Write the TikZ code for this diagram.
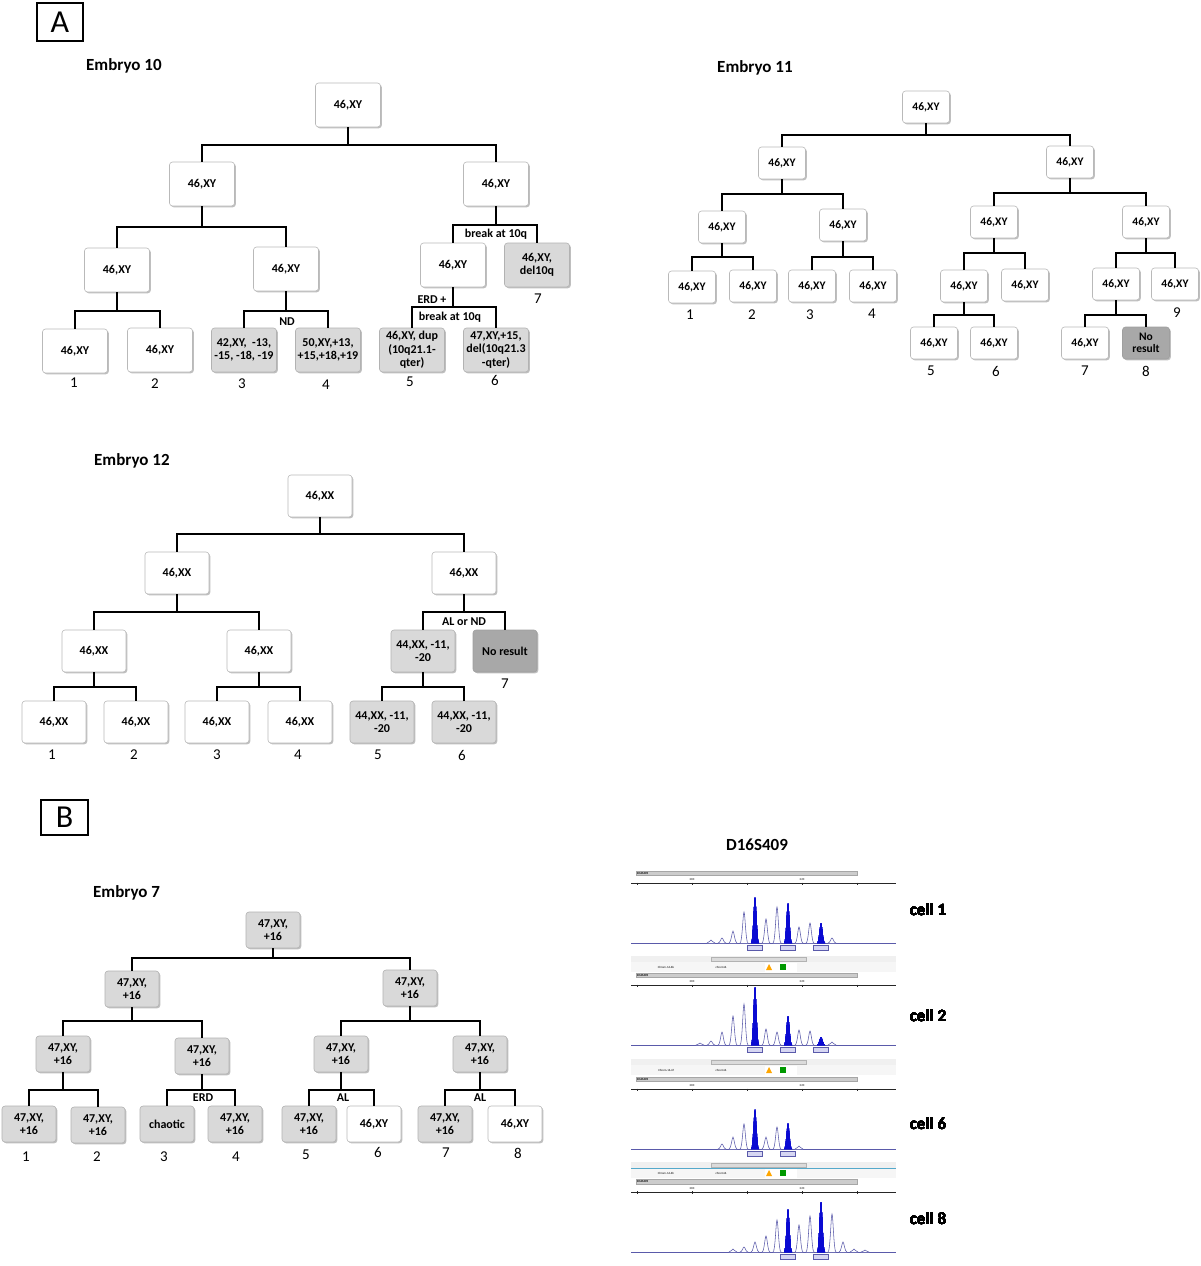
\documentclass[tikz,border=0pt]{standalone}
\usepackage{fontspec}
\setmainfont{Carlito}
\usetikzlibrary{shadows}

\definecolor{trace}{HTML}{5A5AAA}
\definecolor{peakblue}{HTML}{0A0AD2}
\definecolor{lblfill}{HTML}{D6D6F2}

\tikzset{
  box/.style={rounded corners=3pt, draw=gray!55, line width=0.6pt, fill=white, align=center, inner sep=1pt,
    font=\bfseries\fontsize{12}{13.5}\selectfont,
    drop shadow={shadow xshift=1.3pt, shadow yshift=-1.3pt, opacity=0.25, fill=black}},
  lite/.style={fill=gray!30, draw=gray!60},
  dark/.style={fill=gray!68, draw=gray!75},
  s10/.style={box, minimum width=65pt, minimum height=44pt},
  s11/.style={box, minimum width=47pt, minimum height=32pt, font=\bfseries\fontsize{11.5}{12.5}\selectfont},
  s12/.style={box, minimum width=64pt, minimum height=42pt},
  s7/.style={box, minimum width=54pt, minimum height=36pt, font=\bfseries\fontsize{12}{13}\selectfont},
  link/.style={line width=1.7pt},
  num/.style={font=\fontsize{15}{16}\selectfont, inner sep=0pt},
  tag/.style={font=\bfseries\fontsize{12}{13}\selectfont, inner sep=0pt},
  title/.style={font=\bfseries\fontsize{17}{19}\selectfont, anchor=west, inner sep=0pt},
  tiny/.style={font=\fontsize{3}{3.5}\selectfont, inner sep=0pt},
  panel/.style={draw, line width=2.2pt, font=\fontsize{32}{34}\selectfont, inner sep=0pt},
}

% parent, left child, right child, level of the bar
\newcommand\forkbar[4]{%
  \draw[link] (#1.south) -- (#1.south |- 0,#4);
  \draw[link] (#2.north) -- (#2.north |- 0,#4) -- (#3.north |- 0,#4) -- (#3.north);
}

% peaks: x, top, baseline
\newcommand\hpk[3]{\draw[trace, line width=0.55pt, fill=white] ({#1-4},#3) .. controls ({#1-1.8},#3) and ({#1-1},#2) .. (#1,#2) .. controls ({#1+1},#2) and ({#1+1.8},#3) .. ({#1+4},#3);}
\newcommand\fpk[3]{\fill[peakblue] ({#1-4},#3) .. controls ({#1-2},#3) and ({#1-1.2},#2) .. (#1,#2) .. controls ({#1+1.2},#2) and ({#1+2},#3) .. ({#1+4},#3) -- cycle;
  \draw[trace, fill=lblfill, line width=0.5pt] ({#1-7.5},{#3+2}) rectangle ({#1+7.5},{#3+7});}

% marker bar and size axis
\newcommand\ephead[1]{%
  \draw[gray!70, fill=gray!40, line width=0.4pt] (636,#1) rectangle (857,{#1+4.5});
  \node[tiny, anchor=west, font=\bfseries\fontsize{3}{3.5}\selectfont] at (637,{#1+2.3}) {D16S409};
  \draw[gray!30!black, line width=0.4pt] (631,{#1+12.5}) -- (896,{#1+12.5});
  \foreach \t in {637,692,747,802,857} \draw[gray!30!black, line width=0.4pt] (\t,{#1+11.5}) -- (\t,{#1+14});
  \node[tiny] at (692,{#1+9}) {200};
  \node[tiny] at (802,{#1+9}) {220};
}

% scroll band and sample row
\newcommand\eprow[2]{%
  \fill[gray!12] (631,#1) rectangle (896,{#1+6});
  \draw[gray!60, fill=gray!28, line width=0.4pt] (711,{#1+0.8}) rectangle (806,{#1+5.2});
  \fill[gray!7] (631,{#1+6}) rectangle (896,{#1+16});
  \fill[white] (765,{#1+6.5}) rectangle (797,{#1+15.5});
  \fill[orange!70!yellow] (766,{#1+14}) -- (772,{#1+14}) -- (769,{#1+8}) -- cycle;
  \fill[green!60!black] (780,{#1+8}) rectangle (786,{#1+14});
  \node[tiny] at (666,{#1+11}) {#2};
  \node[tiny] at (721,{#1+11}) {chrom16};
}

\begin{document}
\begin{tikzpicture}[x=1pt, y=-1pt]

\fill[white] (0,0) rectangle (1200,1266);
\useasboundingbox (0,0) rectangle (1200,1266);

\node[panel, minimum width=46pt, minimum height=38pt] (pa) at (60,22) {A};
\node[panel, minimum width=47pt, minimum height=35pt] (pb) at (64.5,817.5) {B};

% Embryo 10
\node[title] (t10) at (86,66) {Embryo 10};
\node[s10] (e10a) at (348,105) {46,XY};
\node[s10] (e10b) at (202,184) {46,XY};
\node[s10] (e10c) at (496,184) {46,XY};
\node[s10] (e10d) at (117,270) {46,XY};
\node[s10] (e10e) at (286,269) {46,XY};
\node[s10] (e10f) at (453,265) {46,XY};
\node[s10, lite] (e10g) at (537,265) {46,XY,\\del10q};
\node[s10] (e10h) at (75,351) {46,XY};
\node[s10] (e10i) at (160,350) {46,XY};
\node[s10, lite] (e10j) at (244,350) {42,XY,\ \ -13,\\-15, -18, -19};
\node[s10, lite] (e10k) at (328,350) {50,XY,+13,\\+15,+18,+19};
\node[s10, lite] (e10l) at (412,350) {46,XY, dup\\(10q21.1-\\qter)};
\node[s10, lite] (e10m) at (496,350) {47,XY,+15,\\del(10q21.3\\-qter)};

\forkbar{e10a}{e10b}{e10c}{145}
\forkbar{e10b}{e10d}{e10e}{227}
\forkbar{e10c}{e10f}{e10g}{225}
\forkbar{e10d}{e10h}{e10i}{311}
\forkbar{e10e}{e10j}{e10k}{311}
\forkbar{e10f}{e10l}{e10m}{307}

\node[tag] (g10a) at (496,234) {break at 10q};
\node[tag] (g10b) at (287,322) {ND};
\node[tag] (g10c) at (432,300) {ERD +};
\node[tag] (g10d) at (450,317) {break at 10q};

\node[num] (n10a) at (74,383) {1};
\node[num] (n10b) at (155,384) {2};
\node[num] (n10c) at (242,384) {3};
\node[num] (n10d) at (326,385) {4};
\node[num] (n10e) at (410,382) {5};
\node[num] (n10f) at (495,380) {6};
\node[num] (n10g) at (538,299) {7};

% Embryo 11
\node[title] (t11) at (717,68) {Embryo 11};
\node[s11] (e11a) at (926,107) {46,XY};
\node[s11] (e11b) at (782,163) {46,XY};
\node[s11] (e11c) at (1070,162) {46,XY};
\node[s11] (e11d) at (722,227) {46,XY};
\node[s11] (e11e) at (843,225) {46,XY};
\node[s11] (e11f) at (994,222) {46,XY};
\node[s11] (e11g) at (1146,222) {46,XY};
\node[s11] (e11h) at (692,287) {46,XY};
\node[s11] (e11i) at (753,286) {46,XY};
\node[s11] (e11j) at (812,286) {46,XY};
\node[s11] (e11k) at (873,286) {46,XY};
\node[s11] (e11l) at (964,286) {46,XY};
\node[s11] (e11m) at (1025,285) {46,XY};
\node[s11] (e11n) at (1116,284) {46,XY};
\node[s11] (e11o) at (1175,284) {46,XY};
\node[s11] (e11p) at (934,343) {46,XY};
\node[s11] (e11q) at (994,343) {46,XY};
\node[s11] (e11r) at (1085,343) {46,XY};
\node[s11, dark] (e11s) at (1146,343) {No\\result};

\forkbar{e11a}{e11b}{e11c}{135}
\forkbar{e11b}{e11d}{e11e}{194}
\forkbar{e11c}{e11f}{e11g}{193}
\forkbar{e11d}{e11h}{e11i}{257}
\forkbar{e11e}{e11j}{e11k}{257}
\forkbar{e11f}{e11l}{e11m}{253}
\forkbar{e11g}{e11n}{e11o}{253}
\forkbar{e11l}{e11p}{e11q}{315}
\forkbar{e11n}{e11r}{e11s}{315}

\node[num] (n11a) at (690,315) {1};
\node[num] (n11b) at (752,315) {2};
\node[num] (n11c) at (810,315) {3};
\node[num] (n11d) at (872,314) {4};
\node[num] (n11e) at (931,371) {5};
\node[num] (n11f) at (996,371) {6};
\node[num] (n11g) at (1085,371) {7};
\node[num] (n11h) at (1146,371) {8};
\node[num] (n11i) at (1177,313) {9};

% Embryo 12
\node[title] (t12) at (94,461) {Embryo 12};
\node[s12] (e12a) at (320,496) {46,XX};
\node[s12] (e12b) at (177,573) {46,XX};
\node[s12] (e12c) at (464,573) {46,XX};
\node[s12] (e12d) at (94,651) {46,XX};
\node[s12] (e12e) at (259,651) {46,XX};
\node[s12, lite] (e12f) at (423,651) {44,XX, -11,\\-20};
\node[s12, dark] (e12g) at (505,651) {No result};
\node[s12] (e12h) at (54,722) {46,XX};
\node[s12] (e12i) at (136,722) {46,XX};
\node[s12] (e12j) at (217,722) {46,XX};
\node[s12] (e12k) at (300,722) {46,XX};
\node[s12, lite] (e12l) at (382,722) {44,XX, -11,\\-20};
\node[s12, lite] (e12m) at (464,722) {44,XX, -11,\\-20};

\forkbar{e12a}{e12b}{e12c}{534}
\forkbar{e12b}{e12d}{e12e}{612}
\forkbar{e12c}{e12f}{e12g}{612}
\forkbar{e12d}{e12h}{e12i}{687}
\forkbar{e12e}{e12j}{e12k}{687}
\forkbar{e12f}{e12l}{e12m}{687}

\node[tag] (g12a) at (464,622) {AL or ND};

\node[num] (n12a) at (52,755) {1};
\node[num] (n12b) at (134,755) {2};
\node[num] (n12c) at (217,755) {3};
\node[num] (n12d) at (298,755) {4};
\node[num] (n12e) at (378,755) {5};
\node[num] (n12f) at (462,755) {6};
\node[num] (n12g) at (505,684) {7};

% Embryo 7
\node[title] (t7) at (93,893) {Embryo 7};
\node[s7, lite] (e7a) at (273,930) {47,XY,\\+16};
\node[s7, lite] (e7b) at (132,989) {47,XY,\\+16};
\node[s7, lite] (e7c) at (410,988) {47,XY,\\+16};
\node[s7, lite] (e7d) at (63,1054) {47,XY,\\+16};
\node[s7, lite] (e7e) at (202,1056) {47,XY,\\+16};
\node[s7, lite] (e7f) at (341,1054) {47,XY,\\+16};
\node[s7, lite] (e7g) at (480,1054) {47,XY,\\+16};
\node[s7, lite] (e7h) at (29,1124) {47,XY,\\+16};
\node[s7, lite] (e7i) at (98,1125) {47,XY,\\+16};
\node[s7, lite] (e7j) at (167,1124) {chaotic};
\node[s7, lite] (e7k) at (235,1124) {47,XY,\\+16};
\node[s7, lite] (e7l) at (309,1124) {47,XY,\\+16};
\node[s7] (e7m) at (374,1124) {46,XY};
\node[s7, lite] (e7n) at (445,1124) {47,XY,\\+16};
\node[s7] (e7o) at (515,1124) {46,XY};

\forkbar{e7a}{e7b}{e7c}{958}
\forkbar{e7b}{e7d}{e7e}{1021}
\forkbar{e7c}{e7f}{e7g}{1021}
\forkbar{e7d}{e7h}{e7i}{1090}
\forkbar{e7e}{e7j}{e7k}{1090}
\forkbar{e7f}{e7l}{e7m}{1090}
\forkbar{e7g}{e7n}{e7o}{1090}

\node[tag] (g7a) at (203,1098) {ERD};
\node[tag] (g7b) at (343,1098) {AL};
\node[tag] (g7c) at (480,1098) {AL};

\node[num] (n7a) at (26,1157) {1};
\node[num] (n7b) at (97,1157) {2};
\node[num] (n7c) at (164,1157) {3};
\node[num] (n7d) at (236,1157) {4};
\node[num] (n7e) at (306,1155) {5};
\node[num] (n7f) at (378,1152) {6};
\node[num] (n7g) at (446,1153) {7};
\node[num] (n7h) at (518,1153) {8};

% D16S409 traces
\node[title, anchor=center] (mk) at (757,845) {D16S409};

\ephead{871}
\draw[trace, line width=0.7pt] (631,943) -- (896,943);
\foreach \x/\y in {711/940,722/938,733/931,744/912,766/919,777/907,799/927,810/923,832/938} \hpk{\x}{\y}{943}
\foreach \x/\y in {755/897,788/903,821/923} \fpk{\x}{\y}{943}
\node[title, anchor=center] (cl1) at (928,910) {cell 1};

\eprow{956}{Chrom-16-6b}

\ephead{973}
\draw[trace, line width=0.7pt] (631,1045) -- (896,1045);
\foreach \x/\y in {700/1043,711/1041,722/1032,733/1016,744/1004,766/1029,777/1032,799/1030,810/1031,832/1042} \hpk{\x}{\y}{1045}
\foreach \x/\y in {755/987,788/1016,821/1037} \fpk{\x}{\y}{1045}
\node[title, anchor=center] (cl2) at (928,1016) {cell 2};

\eprow{1059}{Chrom-16-6f}

\ephead{1077}
\draw[trace, line width=0.7pt] (631,1149) -- (896,1149);
\foreach \x/\y in {722/1144,733/1137,744/1124,766/1137,777/1127,799/1146} \hpk{\x}{\y}{1149}
\foreach \x/\y in {755/1109,788/1123} \fpk{\x}{\y}{1149}
\node[title, anchor=center] (cl6) at (928,1124) {cell 6};

\eprow{1162}{Chrom-16-6h}
\draw[cyan!60!gray, line width=0.5pt] (631,1168.5) -- (896,1168.5);

\ephead{1179.5}
\draw[trace, line width=0.7pt] (631,1252) -- (896,1252);
\foreach \x/\y in {733/1249,744/1247,755/1242,766/1236,777/1220,799/1225,810/1216,832/1214,843/1242,854/1249,865/1250} \hpk{\x}{\y}{1252}
\foreach \x/\y in {788/1209,821/1202} \fpk{\x}{\y}{1252}
\node[title, anchor=center] (cl8) at (928,1219) {cell 8};

\end{tikzpicture}
\end{document}
